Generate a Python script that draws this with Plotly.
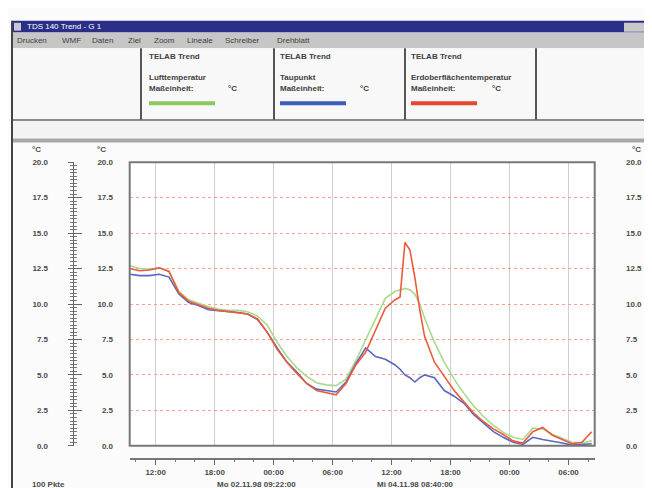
import plotly.graph_objects as go

W, H = 652, 488

# ---------------- data ----------------
hours = [0, 1, 2, 3, 4, 5, 6, 7, 8, 9, 10, 11, 12, 13, 14, 15, 16, 17, 18, 19,
         20, 21, 22, 23, 24, 25, 26, 27, 27.5, 28, 28.5, 29, 29.5, 30, 31, 32,
         33, 34, 35, 36, 37, 38, 39, 40, 41, 42, 43, 44, 45, 46, 47]

air_temp = [12.7, 12.5, 12.45, 12.55, 12.3, 10.9, 10.3, 10.05, 9.8, 9.65, 9.55,
            9.55, 9.45, 9.15, 8.5, 7.3, 6.3, 5.5, 4.9, 4.45, 4.3, 4.25, 4.7, 6.0,
            7.5, 9.0, 10.4, 10.9, 11.0, 11.1, 11.0, 10.7, 10.0, 9.0, 7.3, 5.9,
            4.7, 3.7, 2.8, 2.05, 1.45, 0.95, 0.6, 0.45, 1.25, 1.2, 0.8, 0.55,
            0.25, 0.2, 0.35]

dew_point = [12.1, 12.0, 12.0, 12.1, 11.9, 10.7, 10.1, 9.9, 9.6, 9.55, 9.45,
             9.4, 9.3, 8.9, 8.0, 6.9, 5.9, 5.2, 4.4, 4.0, 3.9, 3.8, 4.5, 5.8,
             6.9, 6.3, 6.1, 5.7, 5.4, 5.0, 4.8, 4.5, 4.8, 5.0, 4.8, 3.9, 3.5,
             3.0, 2.2, 1.6, 1.0, 0.6, 0.25, 0.1, 0.6, 0.45, 0.35, 0.2, 0.05,
             0.1, 0.15]

ground_temp = [12.5, 12.35, 12.4, 12.55, 12.3, 10.8, 10.2, 9.95, 9.7, 9.55,
               9.45, 9.4, 9.3, 8.95, 8.0, 6.8, 5.9, 5.1, 4.4, 3.9, 3.75, 3.6,
               4.4, 5.7, 6.6, 8.1, 9.7, 10.3, 10.5, 14.35, 13.8, 11.9, 9.6, 7.7,
               5.9, 4.9, 3.9, 3.1, 2.3, 1.7, 1.2, 0.8, 0.35, 0.2, 1.0, 1.3,
               0.75, 0.45, 0.15, 0.25, 1.0]

x_tick_labels = ["12:00", "18:00", "00:00", "06:00", "12:00", "18:00", "00:00", "06:00"]
y_tick_values = [0, 2.5, 5, 7.5, 10, 12.5, 15, 17.5, 20]
y_tick_labels = ["0.0", "2.5", "5.0", "7.5", "10.0", "12.5", "15.0", "17.5", "20.0"]

series_names = ["Lufttemperatur", "Taupunkt", "Erdoberflächentemperatur"]
series_colors = ["#a9d98f", "#5a68c0", "#ec5a3a"]
legend_colors = ["#8cc860", "#3d5db8", "#e8452e"]

# ---------------- geometry helpers ----------------
def px(x):
    return x / W

def py(y):
    return 1 - y / H

X_RANGE = [0, 47.3]
first_tick = 2.64
tick_vals = [first_tick + 6 * i for i in range(len(x_tick_labels))]

FONT = "Liberation Sans, Arial, sans-serif"
TXT = "#4a4a4a"

def b(labels):
    return ["<b>%s</b>" % s for s in labels]

fig = go.Figure()

traces = [(air_temp, 0), (dew_point, 1), (ground_temp, 2)]
for vals, i in traces:
    fig.add_trace(go.Scatter(x=hours, y=vals, mode="lines", name=series_names[i],
                             line=dict(color=series_colors[i], width=1.6),
                             xaxis="x", yaxis="y", showlegend=False,
                             hoverinfo="skip"))

# dummy traces so every auxiliary axis is drawn
for ya, xa in [("y2", "x"), ("y3", "x"), ("y4", "x"), ("y5", "x"), ("y6", "x"), ("y", "x2")]:
    fig.add_trace(go.Scatter(x=[None], y=[None], xaxis=xa, yaxis=ya,
                             showlegend=False, hoverinfo="skip"))

dom_x = [px(121.7), px(586.7)]
dom_y = [py(442), py(153)]

tickfont = dict(family=FONT, size=8, color=TXT)

fig.update_layout(
    width=W, height=H,
    margin=dict(l=0, r=0, t=0, b=0),
    paper_bgcolor="#fbfbfb",
    plot_bgcolor="#ffffff",
    font=dict(family=FONT, size=9, color=TXT),
    xaxis=dict(domain=dom_x, range=X_RANGE, tickvals=tick_vals,
               showticklabels=False, ticks="", showgrid=True,
               gridcolor="#cfcfcf", gridwidth=1, zeroline=False,
               showline=False, fixedrange=True),
    xaxis2=dict(overlaying="x", anchor="free", position=py(455),
                range=X_RANGE, tickvals=tick_vals, ticktext=b(x_tick_labels),
                ticks="outside", ticklen=6, tickcolor="#666", tickwidth=1,
                minor=dict(tickvals=[first_tick - 2 + 2 * k for k in range(24)],
                           ticks="outside", ticklen=3, tickcolor="#777"),
                showline=True, linecolor="#777", linewidth=1.5,
                showgrid=False, zeroline=False, tickfont=tickfont),
    yaxis=dict(domain=dom_y, range=[0, 20], tickvals=y_tick_values,
               showticklabels=False, ticks="", showgrid=True,
               gridcolor="#f3a08e", gridwidth=1, griddash="dot",
               zeroline=False, showline=False),
    yaxis2=dict(overlaying="y", anchor="free", position=px(40), side="left",
                range=[0, 20], tickvals=y_tick_values, ticktext=b(y_tick_labels),
                ticks="", showgrid=False, zeroline=False, showline=False,
                tickfont=tickfont),
    yaxis3=dict(overlaying="y", anchor="free", position=px(105), side="left",
                range=[0, 20], tickvals=y_tick_values, ticktext=b(y_tick_labels),
                ticks="", showgrid=False, zeroline=False, showline=False,
                tickfont=tickfont),
    yaxis4=dict(overlaying="y", anchor="free", position=px(65), side="left",
                range=[0, 20], tickvals=y_tick_values, showticklabels=False,
                ticks="outside", ticklen=5, tickcolor="#666",
                minor=dict(dtick=0.25, ticks="outside", ticklen=3, tickcolor="#777"),
                showline=True, linecolor="#666", linewidth=1,
                showgrid=False, zeroline=False),
    yaxis5=dict(overlaying="y", anchor="free", position=px(65), side="left",
                range=[0, 20], tickvals=y_tick_values, showticklabels=False,
                ticks="inside", ticklen=8, tickcolor="#666",
                minor=dict(dtick=0.25, ticks="inside", ticklen=3, tickcolor="#777"),
                showline=False, showgrid=False, zeroline=False),
    yaxis6=dict(overlaying="y", anchor="free", position=px(617), side="right",
                range=[0, 20], tickvals=y_tick_values, ticktext=b(y_tick_labels),
                ticks="", showgrid=False, zeroline=False, showline=False,
                tickfont=tickfont),
)

shapes = []
def rect(x0, y0, x1, y1, fill, line=None, lw=0):
    shapes.append(dict(type="rect", xref="paper", yref="paper",
                       x0=px(x0), x1=px(x1), y0=py(y1), y1=py(y0),
                       fillcolor=fill, line=dict(width=lw, color=line or fill),
                       layer="below"))

def hline(x0, x1, y, color, w):
    shapes.append(dict(type="line", xref="paper", yref="paper",
                       x0=px(x0), x1=px(x1), y0=py(y), y1=py(y),
                       line=dict(color=color, width=w)))

def vline(x, y0, y1, color, w):
    shapes.append(dict(type="line", xref="paper", yref="paper",
                       x0=px(x), x1=px(x), y0=py(y0), y1=py(y1),
                       line=dict(color=color, width=w)))

# window chrome
rect(4, 9, 652, 21, "#2a2e86")
rect(6, 11, 13, 19, "#c8c8d8")
rect(616, 11, 650, 20, "#c8c8c8")
rect(4, 21, 652, 37, "#c6c6c6")
rect(4, 37, 652, 110, "#f8f8f8")
rect(4, 111, 652, 129, "#f3f3f3")
rect(4, 129, 652, 133, "#a8a8a8")
for xd in [133, 266, 397, 528]:
    vline(xd, 37, 110, "#555555", 2)
hline(4, 652, 110, "#666666", 1.5)
vline(4, 9, 488, "#444444", 2)
# legend colour bars
for i, (x0, x1) in enumerate([(141, 207), (272, 338), (403, 469)]):
    hline(x0, x1, 93, legend_colors[i], 4)
# plot frame
shapes.append(dict(type="rect", xref="x domain", yref="y domain", x0=0, x1=1,
                   y0=0, y1=1, line=dict(color="#777777", width=2)))

fig.update_layout(shapes=shapes)

ann = []
def text(x, y, s, size=9, color=TXT, bold=False, anchor="left"):
    ann.append(dict(xref="paper", yref="paper", x=px(x), y=py(y),
                    text=("<b>%s</b>" % s) if bold else s, showarrow=False,
                    xanchor=anchor, yanchor="middle",
                    font=dict(family=FONT, size=size, color=color)))

text(17, 15, "TDS 140 Trend - G 1", size=8, color="#ffffff")
menu = [(7, "Drucken"), (52, "WMF"), (82, "Daten"), (118, "Ziel"), (144, "Zoom"),
        (177, "Lineale"), (215, "Schreiber"), (267, "Drehblatt")]
for x, s in menu:
    text(x, 29, s, size=8, color="#404040")
text(638, 29, "?", size=8, color="#404040", bold=True)

panel_x = [139, 270, 401]
unit_x = [218, 350, 482]
for i in range(3):
    text(panel_x[i], 45, "TELAB Trend", size=8, color="#404040", bold=True)
    text(panel_x[i], 67, series_names[i], size=8, color="#404040", bold=True)
    text(panel_x[i], 78, "Maßeinheit:", size=8, color="#404040", bold=True)
    text(unit_x[i], 78, "°C", size=8, color="#404040", bold=True)

for x in [28, 93, 628]:
    text(x, 140, "°C", size=8, anchor="center", bold=True)

text(22, 481, "100 Pkte", size=8, bold=True)
text(207, 481, "Mo 02.11.98 09:22:00", size=8, bold=True)
text(367, 481, "Mi 04.11.98 08:40:00", size=8, bold=True)

fig.update_layout(annotations=ann)

fig.write_html("out.html")
